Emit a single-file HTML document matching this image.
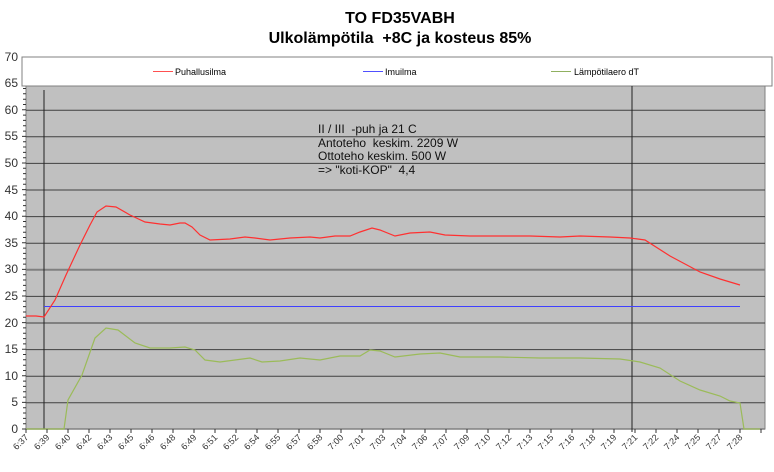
<!DOCTYPE html>
<html><head><meta charset="utf-8"><style>
body{margin:0;background:#fff;}
svg{display:block;font-family:"Liberation Sans",Arial,sans-serif;}
text{white-space:pre;}
</style></head><body>
<svg width="774" height="472" viewBox="0 0 774 472" xmlns="http://www.w3.org/2000/svg">
<rect width="774" height="472" fill="#fff"/>
<text x="400" y="23" font-size="16" font-weight="bold" text-anchor="middle">TO FD35VABH</text>
<text x="400" y="43" font-size="16" font-weight="bold" text-anchor="middle">Ulkolämpötila  +8C ja kosteus 85%</text>
<rect x="26" y="86" width="739" height="343" fill="#c0c0c0" stroke="#808080" stroke-width="1"/>
<g stroke="#404040" stroke-width="1">
<line x1="26" y1="110.2" x2="765" y2="110.2"/>
<line x1="26" y1="136.8" x2="765" y2="136.8"/>
<line x1="26" y1="163.4" x2="765" y2="163.4"/>
<line x1="26" y1="190" x2="765" y2="190"/>
<line x1="26" y1="216.6" x2="765" y2="216.6"/>
<line x1="26" y1="243.2" x2="765" y2="243.2"/>
<line x1="26" y1="269.8" x2="765" y2="269.8" stroke="#808080" stroke-width="2"/>
<line x1="26" y1="296.4" x2="765" y2="296.4"/>
<line x1="26" y1="323" x2="765" y2="323"/>
<line x1="26" y1="349.6" x2="765" y2="349.6"/>
<line x1="26" y1="376.2" x2="765" y2="376.2"/>
<line x1="26" y1="402.8" x2="765" y2="402.8"/>
</g>
<line x1="26" y1="429" x2="765" y2="429" stroke="#808080" stroke-width="1.5"/>
<rect x="22" y="57" width="750" height="29" fill="#fff" stroke="#808080"/>
<g font-size="9" fill="#000">
<line x1="153" y1="71.5" x2="173" y2="71.5" stroke="#ff5050"/><text x="175" y="75">Puhallusilma</text>
<line x1="363" y1="71.5" x2="383" y2="71.5" stroke="#5050ff"/><text x="385" y="75">Imuilma</text>
<line x1="551" y1="71.5" x2="571" y2="71.5" stroke="#90b060"/><text x="574" y="75">Lämpötilaero dT</text>
</g>
<g font-size="12" fill="#333" text-anchor="end">
<text x="18" y="433">0</text><text x="18" y="406">5</text><text x="18" y="380">10</text><text x="18" y="353">15</text>
<text x="18" y="327">20</text><text x="18" y="300">25</text><text x="18" y="273">30</text><text x="18" y="247">35</text>
<text x="18" y="220">40</text><text x="18" y="194">45</text><text x="18" y="167">50</text><text x="18" y="140">55</text>
<text x="18" y="114">60</text><text x="18" y="87">65</text><text x="18" y="61">70</text>
</g>
<!-- y minor ticks: every 5.32px -->
<path stroke="#333" stroke-width="1" d="M22 429H26M23 423.7H26M23 418.4H26M23 413H26M23 407.7H26M22 402.4H26M23 397.1H26M23 391.8H26M23 386.4H26M23 381.1H26M22 375.8H26M23 370.5H26M23 365.2H26M23 359.8H26M23 354.5H26M22 349.2H26M23 343.9H26M23 338.6H26M23 333.2H26M23 327.9H26M22 322.6H26M23 317.3H26M23 312H26M23 306.6H26M23 301.3H26M22 296H26M23 290.7H26M23 285.4H26M23 280H26M23 274.7H26M22 269.4H26M23 264.1H26M23 258.8H26M23 253.4H26M23 248.1H26M22 242.8H26M23 237.5H26M23 232.2H26M23 226.8H26M23 221.5H26M22 216.2H26M23 210.9H26M23 205.6H26M23 200.2H26M23 194.9H26M22 189.6H26M23 184.3H26M23 179H26M23 173.6H26M23 168.3H26M22 163H26M23 157.7H26M23 152.4H26M23 147H26M23 141.7H26M22 136.4H26M23 131.1H26M23 125.8H26M23 120.4H26M23 115.1H26M22 109.8H26M23 104.5H26M23 99.2H26M23 93.8H26M23 88.5H26"/>
<line x1="44" y1="90" x2="44" y2="429" stroke="#222"/>
<line x1="632" y1="86" x2="632" y2="432" stroke="#222"/>
<line x1="44" y1="306.5" x2="740" y2="306.5" stroke="#4040ff"/>
<polyline fill="none" stroke="#ff3030" stroke-width="1.2" points="26,316 36,316 44,317 55,300 66,275 80,245 90,225 97,212 106,206 116,207 130,215 145,222 160,224 170,225 180,223 185,223 192,227 200,235 210,240 230,239 245,237 255,238 270,240 290,238 310,237 320,238 335,236 350,236 360,232 372,228 380,230 395,236 410,233 430,232 445,235 470,236 500,236 530,236 560,237 580,236 610,237 630,238 645,240 670,256 700,272 720,279 740,285"/>
<polyline fill="none" stroke="#9bbb59" stroke-width="1.2" points="26,429 64,429 68,400 82,375 95,338 106,328 118,330 135,343 150,348 170,348 185,347 195,350 205,360 220,362 250,358 262,362 280,361 300,358 320,360 340,356 360,356 370,350 380,351 395,357 420,354 440,353 460,357 500,357 540,358 580,358 620,359 640,362 660,368 680,381 700,390 720,396 730,401 740,403 744,429 760,429"/>
<g font-size="12" fill="#111">
<text x="318" y="133">II / III  -puh ja 21 C</text>
<text x="318" y="147">Antoteho  keskim. 2209 W</text>
<text x="318" y="160">Ottoteho keskim. 500 W</text>
<text x="318" y="174">=&gt; "koti-KOP"  4,4</text>
</g>
<path stroke="#333" stroke-width="1" d="M26 429V433M47 429V433M68 429V433M89 429V433M110 429V433M131 429V433M152 429V433M173 429V433M194 429V433M215 429V433M236 429V433M257 429V433M278 429V433M299 429V433M320 429V433M341 429V433M362 429V433M383 429V433M404 429V433M425 429V433M446 429V433M467 429V433M488 429V433M509 429V433M530 429V433M551 429V433M572 429V433M593 429V433M614 429V433M635 429V433M656 429V433M677 429V433M698 429V433M719 429V433M740 429V433M761 429V433"/>
<g font-size="9" fill="#333" text-anchor="end">
<text transform="translate(29,438) rotate(-45)">6:37</text>
<text transform="translate(50,438) rotate(-45)">6:39</text>
<text transform="translate(71,438) rotate(-45)">6:40</text>
<text transform="translate(92,438) rotate(-45)">6:42</text>
<text transform="translate(113,438) rotate(-45)">6:43</text>
<text transform="translate(134,438) rotate(-45)">6:45</text>
<text transform="translate(155,438) rotate(-45)">6:46</text>
<text transform="translate(176,438) rotate(-45)">6:48</text>
<text transform="translate(197,438) rotate(-45)">6:49</text>
<text transform="translate(218,438) rotate(-45)">6:51</text>
<text transform="translate(239,438) rotate(-45)">6:52</text>
<text transform="translate(260,438) rotate(-45)">6:54</text>
<text transform="translate(281,438) rotate(-45)">6:55</text>
<text transform="translate(302,438) rotate(-45)">6:57</text>
<text transform="translate(323,438) rotate(-45)">6:58</text>
<text transform="translate(344,438) rotate(-45)">7:00</text>
<text transform="translate(365,438) rotate(-45)">7:01</text>
<text transform="translate(386,438) rotate(-45)">7:03</text>
<text transform="translate(407,438) rotate(-45)">7:04</text>
<text transform="translate(428,438) rotate(-45)">7:06</text>
<text transform="translate(449,438) rotate(-45)">7:07</text>
<text transform="translate(470,438) rotate(-45)">7:09</text>
<text transform="translate(491,438) rotate(-45)">7:10</text>
<text transform="translate(512,438) rotate(-45)">7:12</text>
<text transform="translate(533,438) rotate(-45)">7:13</text>
<text transform="translate(554,438) rotate(-45)">7:15</text>
<text transform="translate(575,438) rotate(-45)">7:16</text>
<text transform="translate(596,438) rotate(-45)">7:18</text>
<text transform="translate(617,438) rotate(-45)">7:19</text>
<text transform="translate(638,438) rotate(-45)">7:21</text>
<text transform="translate(659,438) rotate(-45)">7:22</text>
<text transform="translate(680,438) rotate(-45)">7:24</text>
<text transform="translate(701,438) rotate(-45)">7:25</text>
<text transform="translate(722,438) rotate(-45)">7:27</text>
<text transform="translate(743,438) rotate(-45)">7:28</text>
</g>
</svg>
</body></html>
